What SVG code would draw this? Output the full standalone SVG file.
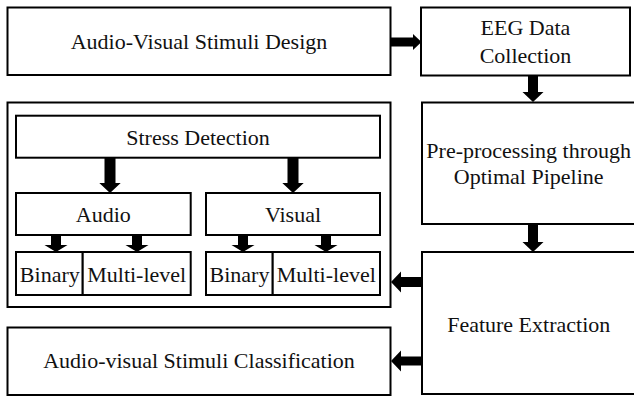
<svg xmlns="http://www.w3.org/2000/svg" width="634" height="397" viewBox="0 0 634 397">
<style>
.box{fill:#fff;stroke:#000;stroke-width:2}
.t{font-family:"Liberation Serif","Times New Roman",serif;font-size:22px;fill:#111;text-anchor:middle}
.ar{fill:#000}
</style>
<rect width="634" height="397" fill="#fff"/>
<g id="n-design"><rect class="box" x="7.5" y="7.5" width="383" height="67.5"/><text class="t" x="199" y="49">Audio-Visual Stimuli Design</text></g>
<g id="n-eeg"><rect class="box" x="421" y="7.5" width="209" height="68"/><text class="t" x="525.5" y="35">EEG Data</text><text class="t" x="525.5" y="63">Collection</text></g>
<g id="n-pre"><rect class="box" x="422" y="102.5" width="220" height="121.5"/><text class="t" x="528.7" y="158.3">Pre-processing through</text><text class="t" x="528.7" y="184.3">Optimal Pipeline</text></g>
<g id="n-feature"><rect class="box" x="422" y="252" width="220" height="142"/><text class="t" x="528.7" y="331.7">Feature Extraction</text></g>
<g id="n-container"><rect class="box" x="7.5" y="102.5" width="383" height="204.5"/></g>
<g id="n-stress"><rect class="box" x="16" y="115.7" width="364" height="42"/><text class="t" x="198" y="145">Stress Detection</text></g>
<g id="n-audio"><rect class="box" x="16" y="193" width="174.7" height="42"/><text class="t" x="103.3" y="222.3">Audio</text></g>
<g id="n-visual"><rect class="box" x="206" y="193" width="174" height="42"/><text class="t" x="293" y="222.3">Visual</text></g>
<g id="n-a-binary"><rect class="box" x="16" y="252" width="66.7" height="43"/><text class="t" x="49.8" y="282.3">Binary</text></g>
<g id="n-a-multi"><rect class="box" x="82.7" y="252" width="108" height="43"/><text class="t" x="136.7" y="282.3">Multi-level</text></g>
<g id="n-v-binary"><rect class="box" x="206" y="252" width="66.7" height="43"/><text class="t" x="239.5" y="282.3">Binary</text></g>
<g id="n-v-multi"><rect class="box" x="272.7" y="252" width="107.3" height="43"/><text class="t" x="326.3" y="282.3">Multi-level</text></g>
<g id="n-class"><rect class="box" x="7.5" y="327.5" width="383" height="67.5"/><text class="t" x="199" y="368.3">Audio-visual Stimuli Classification</text></g>
<g id="connectors" class="ar">
<polygon points="391,37.5 413,37.5 413,34 421.5,42 413,50 413,46.5 391,46.5"/>
<polygon points="528,76 538,76 538,92 543.5,92 533,102 522.5,92 528,92"/>
<polygon points="528,225 538,225 538,242 543.5,242 533,252 522.5,242 528,242"/>
<polygon points="104.5,158 115.5,158 115.5,183 120.7,183 110,193 99.3,183 104.5,183"/>
<polygon points="287.5,158 298.5,158 298.5,183 303.7,183 293,193 282.3,183 287.5,183"/>
<polygon points="51,236 61,236 61,245 67.5,245 56,252 44.5,245 51,245"/>
<polygon points="132,236 142,236 142,245 148.5,245 137,252 125.5,245 132,245"/>
<polygon points="238,236 248,236 248,245 254.5,245 243,252 231.5,245 238,245"/>
<polygon points="321,236 331,236 331,245 337.5,245 326,252 314.5,245 321,245"/>
<polygon points="421,277 401,277 401,271.5 391,282 401,292.5 401,287 421,287"/>
<polygon points="421,356.5 401,356.5 401,350.5 391,361 401,371.5 401,365.5 421,365.5"/>
</g>
</svg>
